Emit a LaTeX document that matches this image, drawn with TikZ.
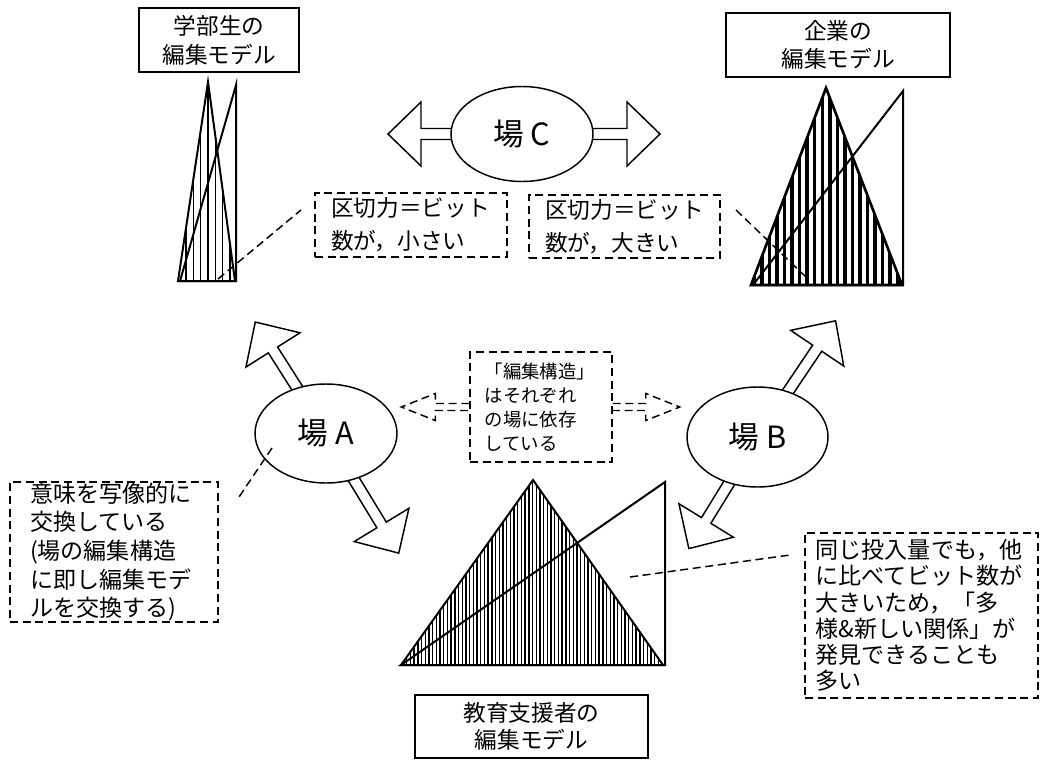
\documentclass[tikz,border=0pt]{standalone}
\usepackage{fontspec}
\setmainfont{Noto Sans CJK JP}
\usetikzlibrary{shapes.geometric,calc}
\newcommand\blockarr[3]{%
  \draw[barrow,shift={(#1)},rotate=#2] (0,-5.5) -- ({#3-33},-5.5) -- ({#3-33},-32) -- (#3,0) -- ({#3-33},32) -- ({#3-33},5.5) -- (0,5.5) -- cycle;}
\begin{document}
\begin{tikzpicture}[x=0.75pt,y=-0.75pt,
  solidbox/.style={draw,line width=1.1pt,inner sep=0pt,align=center,fill=white},
  dpat/.style={line width=1.1pt,dash pattern=on 6pt off 3.5pt},
  dbox/.style={draw,dpat,align=left,inner ysep=0pt,fill=white},
  field/.style={draw,ellipse,line width=1.1pt,fill=white,inner sep=0pt,
    font=\fontsize{23pt}{26pt}\selectfont},
  barrow/.style={draw,line width=1.1pt,fill=white},
  tri/.style={draw,line width=1.5pt,line join=miter},
  leader/.style={dpat}]
\useasboundingbox (0,0) rectangle (1044,760);

% ---------- title boxes ----------
\node[solidbox,minimum width=120pt,minimum height=48pt,
  font=\fontsize{17pt}{21.75pt}\selectfont] (tstu) at (219,40) {学部生の\\編集モデル};
\node[solidbox,minimum width=168pt,minimum height=48pt,
  font=\fontsize{17pt}{21pt}\selectfont] (tent) at (838,45) {企業の\\編集モデル};
\node[solidbox,minimum width=174.75pt,minimum height=47.25pt,
  font=\fontsize{17pt}{20.25pt}\selectfont] (tedu) at (531.5,726.5) {教育支援者の\\編集モデル};

% ---------- student model ----------
\begin{scope}
  \clip (208,82) -- (178,281) -- (235,281) -- cycle;
  \foreach \x in {186,193.33,...,235} \draw[line width=1.1pt] (\x,70) -- (\x,290);
\end{scope}
\draw[tri] (208,82) -- (178,281) -- (235,281) -- cycle;
\draw[tri] (236,85) -- (236,281) -- (180,281) -- cycle;

% ---------- enterprise model ----------
\begin{scope}
  \clip (826,88) -- (751,285) -- (902,285) -- cycle;
  \foreach \x in {754.3,761.85,...,902} \draw[line width=2.6pt] (\x,80) -- (\x,290);
\end{scope}
\draw[tri,line width=2pt] (826,88) -- (751,285) -- (902,285) -- cycle;
\draw[tri] (903,91) -- (903,285) -- (753,285) -- cycle;

% ---------- educator model ----------
\begin{scope}
  \clip (533,480) -- (401,665) -- (663,665) -- cycle;
  \foreach \x in {403,406.7,...,663} \draw[line width=1.05pt] (\x,470) -- (\x,670);
\end{scope}
\draw[tri] (533,480) -- (401,665) -- (663,665) -- cycle;
\draw[tri] (665,482) -- (665,665) -- (401,665) -- cycle;

% ---------- fields with block arrows ----------
\coordinate (cC) at (522,134);
\coordinate (cA) at (326,433.5);
\coordinate (cB) at (757.5,437);
\blockarr{cC}{180}{134}
\blockarr{cC}{0}{138}
\blockarr{cA}{122.4}{132}
\blockarr{cA}{-58.7}{140}
\blockarr{cB}{56.1}{140}
\blockarr{cB}{-121.6}{131}
\node[field,minimum width=106.5pt,minimum height=71.25pt] (fC) at (cC) {場 C};
\node[field,minimum width=106.5pt,minimum height=74.25pt] (fA) at (cA) {場 A};
\node[field,minimum width=105.75pt,minimum height=75pt] (fB) at (cB) {場 B};

% ---------- dashed comment boxes ----------
\node[dbox,minimum width=144pt,minimum height=48pt,text width=120pt,inner xsep=12pt,
  font=\fontsize{17pt}{24.75pt}\selectfont] (ksmall) at (411,225) {区切力＝ビット\\数が，小さい};
\node[dbox,minimum width=143.25pt,minimum height=47.25pt,text width=119.25pt,inner xsep=12pt,
  font=\fontsize{17pt}{24.75pt}\selectfont] (klarge) at (624.5,226.5) {区切力＝ビット\\数が，大きい};
\node[dbox,minimum width=106.5pt,minimum height=82.5pt,text width=84.5pt,inner xsep=11pt,
  font=\fontsize{13.8pt}{18pt}\selectfont] (mid) at (541,407)
  {「編集構造」\\はそれぞれ\\の場に依存\\している};
\node[dbox,minimum width=156pt,minimum height=105pt,text width=126pt,inner xsep=15pt,
  font=\fontsize{17.3pt}{21.4pt}\selectfont] (kleft) at (114,552)
  {意味を写像的に\\交換している\\(場の編集構造\\に即し編集モデ\\ルを交換する)};
\node[dbox,minimum width=174.75pt,minimum height=123.75pt,text width=158.75pt,inner xsep=8pt,
  font=\fontsize{17.3pt}{19.65pt}\selectfont] (kright) at (921.5,615.5)
  {同じ投入量でも，他\\に比べてビット数が\\大きいため，「多\\様\&新しい関係」が\\発見できることも\\多い};

% ---------- dashed arrows from the middle box ----------
\draw[dpat,shift={(mid.west)}] (0,-3.5) -- (-34,-3.5) -- (-34,-13.5) -- (-68,0)
  -- (-34,13.5) -- (-34,3.5) -- (0,3.5);
\draw[dpat,shift={(mid.east)}] (0,-3.5) -- (33,-3.5) -- (33,-13.5) -- (67,0)
  -- (33,13.5) -- (33,3.5) -- (0,3.5);

% ---------- leader lines ----------
\coordinate (l1a) at (218,279); \coordinate (l1b) at (301,210);
\coordinate (l2a) at (736,210); \coordinate (l2b) at (808,279);
\coordinate (l3a) at (272,448); \coordinate (l3b) at (237,500);
\coordinate (l4a) at (630,577); \coordinate (l4b) at (790,555);
\draw[leader] (l1a) -- (l1b);
\draw[leader] (l2a) -- (l2b);
\draw[leader] (l3a) -- (l3b);
\draw[leader] (l4a) -- (l4b);
\end{tikzpicture}
\end{document}
